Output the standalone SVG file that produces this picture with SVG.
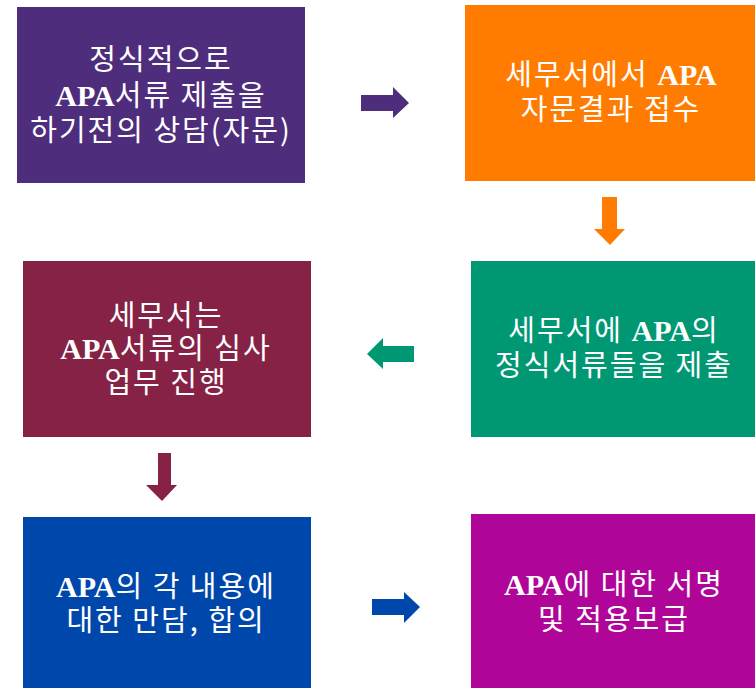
<svg xmlns="http://www.w3.org/2000/svg" width="755" height="688" viewBox="0 0 755 688">
<style>
.lbl{font-family:"Noto Sans CJK KR","Noto Sans",sans-serif;font-size:29px;letter-spacing:2px;fill:#ffffff;text-anchor:middle}
.apa{font-family:"Liberation Serif","Times New Roman",serif;font-weight:bold;font-size:30px;letter-spacing:0}
</style>
<rect width="755" height="688" fill="#ffffff"/>
<g id="connectors">
<polygon points="361,95 393,95 393,87 409,103 393,118 393,111 361,111" fill="#4E2D7C"/>
<polygon points="602,197 617,197 617,229 625,229 610,245 594,229 602,229" fill="#FF7C00"/>
<polygon points="414,346 383,346 383,338 367,354 383,369 383,362 414,362" fill="#009873"/>
<polygon points="158,453 171,453 171,485 177,485 162,501 146,485 158,485" fill="#862245"/>
<polygon points="372,599 404,599 404,592 420,607 404,623 404,615 372,615" fill="#0047AB"/>
</g>
<g id="node1">
<rect x="17" y="7" width="288" height="176" fill="#4E2D7C"/>
<text class="lbl" x="161" y="70">정식적으로</text>
<text class="lbl" x="161" y="106"><tspan class="apa">APA</tspan>서류 제출을</text>
<text class="lbl" x="161" y="141">하기전의 상담(자문)</text>
</g>
<g id="node2">
<rect x="465" y="5" width="290" height="176" fill="#FF7C00"/>
<text class="lbl" x="611" y="85">세무서에서 <tspan class="apa">APA</tspan></text>
<text class="lbl" x="611" y="120">자문결과 접수</text>
</g>
<g id="node3">
<rect x="471" y="261" width="284" height="176" fill="#009873"/>
<text class="lbl" x="614" y="341">세무서에 <tspan class="apa">APA</tspan>의</text>
<text class="lbl" x="614" y="376">정식서류들을 제출</text>
</g>
<g id="node4">
<rect x="23" y="261" width="288" height="176" fill="#862245"/>
<text class="lbl" x="166" y="326">세무서는</text>
<text class="lbl" x="166" y="359"><tspan class="apa">APA</tspan>서류의 심사</text>
<text class="lbl" x="166" y="393">업무 진행</text>
</g>
<g id="node5">
<rect x="23" y="517" width="288" height="171" fill="#0047AB"/>
<text class="lbl" x="166" y="597"><tspan class="apa">APA</tspan>의 각 내용에</text>
<text class="lbl" x="166" y="631">대한 만담, 합의</text>
</g>
<g id="node6">
<rect x="471" y="514" width="284" height="174" fill="#B00599"/>
<text class="lbl" x="614" y="595"><tspan class="apa">APA</tspan>에 대한 서명</text>
<text class="lbl" x="614" y="630">및 적용보급</text>
</g>
</svg>
